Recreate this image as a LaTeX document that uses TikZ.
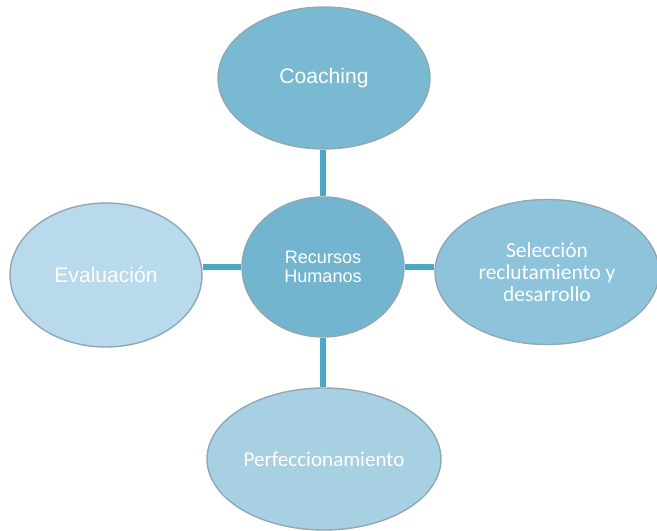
\documentclass[tikz,border=0pt]{standalone}
\usepackage{fontspec}
\usepackage{xcolor}
\usepackage{tikz}
\usetikzlibrary{positioning,shapes.geometric,backgrounds}

\newfontfamily\arialfont{Liberation Sans}
\newfontfamily\calibrifont{Carlito}

\definecolor{coachblue}{HTML}{79B9D1}
\definecolor{hrblue}{HTML}{73B5CE}
\definecolor{evalblue}{HTML}{B9D9EC}
\definecolor{selblue}{HTML}{8DC4DB}
\definecolor{perfblue}{HTML}{A8D0E3}
\definecolor{rimgray}{HTML}{8EA8B4}
\definecolor{linkteal}{HTML}{4AA8C5}

\begin{document}
\begin{tikzpicture}[x=0.02cm, y=-0.02cm,
    bubble/.style={ellipse, draw=rimgray, line width=0.8pt, inner sep=0pt, text=white, align=center},
    link/.style={draw=linkteal, line width=2.9pt}]

\useasboundingbox (0, 0) rectangle (657, 531);

% Central node
\node[bubble, fill=hrblue, minimum width=3.24cm, minimum height=2.8cm,
      font=\arialfont\fontsize{10.3}{11}\selectfont] (hr) at (323, 267) {Recursos\\Humanos};

% Outer nodes
\node[bubble, fill=coachblue, minimum width=4.24cm, minimum height=2.84cm,
      font=\arialfont\fontsize{12}{14}\selectfont] (coach) at (324, 78) {Coaching};
\node[bubble, fill=evalblue, minimum width=3.84cm, minimum height=2.88cm,
      font=\arialfont\fontsize{12}{14}\selectfont] (eval) at (106, 275) {Evaluación};
\node[bubble, fill=selblue, minimum width=4.48cm, minimum height=2.9cm,
      font=\calibrifont\fontsize{12.2}{12.6}\selectfont] (sel) at (547, 272) {Selección\\reclutamiento y\\desarrollo};
\node[bubble, fill=perfblue, minimum width=4.68cm, minimum height=2.84cm,
      font=\calibrifont\fontsize{12}{14}\selectfont] (perf) at (324, 459) {Perfeccionamiento};

% Connectors
\begin{scope}[on background layer]
    \draw[link] (hr.north) -- (hr.north |- coach.south);
    \draw[link] (hr.south) -- (hr.south |- perf.north);
    \draw[link] (hr.west) -- (hr.west -| eval.east);
    \draw[link] (hr.east) -- (hr.east -| sel.west);
\end{scope}

\end{tikzpicture}
\end{document}
